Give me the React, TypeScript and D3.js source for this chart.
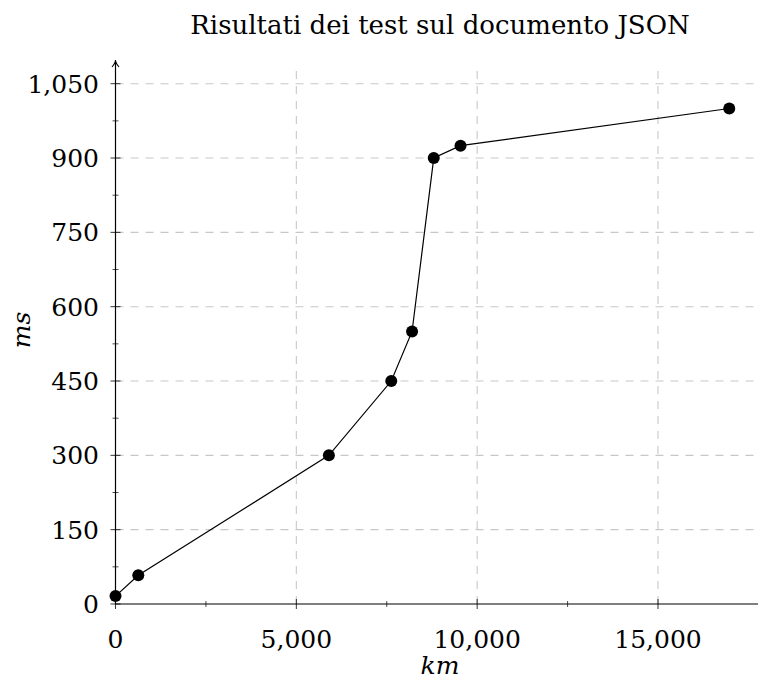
import * as d3 from "d3";

// distance (km) vs response time (ms)
const kmValues = [0, 630, 5900, 7625, 8200, 8800, 9540, 16970];
const msValues = [16, 58, 300, 450, 550, 900, 925, 1000];

const xTicks = [0, 5000, 10000, 15000];
const xMinorTicks = [2500, 7500, 12500];
const yTicks = [0, 150, 300, 450, 600, 750, 900, 1050];
const yMinorTicks = [75, 225, 375, 525, 675, 825, 975];

const title = "Risultati dei test sul documento JSON";
const xLabel = "km";
const yLabel = "ms";

const width = 758;
const height = 684;
const font = "DejaVu Serif";

export default function App() {
  const x = d3.scaleLinear().domain([0, 15000]).range([115.5, 658]);
  const y = d3.scaleLinear().domain([0, 1050]).range([604, 83.7]);

  const xEnd = width;
  const yTop = 60;
  const fmt = d3.format(",");

  const points: [number, number][] = kmValues.map((k, i) => [k, msValues[i]]);
  const line = d3
    .line<[number, number]>()
    .x(d => x(d[0]))
    .y(d => y(d[1]));

  return (
    <svg
      width={width}
      height={height}
      style={{ position: "absolute", left: 0, top: 0, background: "#fff" }}
      fontFamily={font}
    >
      {/* grid */}
      <g stroke="#c8c8c8" strokeWidth={1.1} strokeDasharray="8,7">
        {yTicks.slice(1).map(t => (
          <line key={"gy" + t} x1={x(0)} x2={xEnd} y1={y(t)} y2={y(t)} />
        ))}
        {xTicks.slice(1).map(t => (
          <line key={"gx" + t} x1={x(t)} x2={x(t)} y1={y(0)} y2={yTop + 4} />
        ))}
      </g>

      {/* axes */}
      <g stroke="#000" strokeWidth={1.2}>
        <line x1={x(0)} x2={xEnd} y1={y(0)} y2={y(0)} />
        <line x1={x(0)} x2={x(0)} y1={y(0)} y2={yTop + 2} />
        {xTicks.map(t => (
          <line key={"xt" + t} x1={x(t)} x2={x(t)} y1={y(0) - 5} y2={y(0) + 5} strokeWidth={0.8} />
        ))}
        {xMinorTicks.map(t => (
          <line key={"xm" + t} x1={x(t)} x2={x(t)} y1={y(0) - 3} y2={y(0) + 3} strokeWidth={0.7} />
        ))}
        {yTicks.map(t => (
          <line key={"yt" + t} x1={x(0) - 5} x2={x(0) + 5} y1={y(t)} y2={y(t)} strokeWidth={0.8} />
        ))}
        {yMinorTicks.map(t => (
          <line key={"ym" + t} x1={x(0) - 3} x2={x(0) + 3} y1={y(t)} y2={y(t)} strokeWidth={0.7} />
        ))}
      </g>
      {/* arrow on y axis */}
      <path
        d={`M${x(0) - 3.5},${yTop + 7} Q${x(0)},${yTop + 3} ${x(0)},${yTop} Q${x(0)},${yTop + 3} ${x(0) + 3.5},${yTop + 7}`}
        fill="none"
        stroke="#000"
        strokeWidth={1.1}
      />

      {/* tick labels */}
      <g fontSize={25} fill="#000">
        {xTicks.map(t => (
          <text key={"xl" + t} x={x(t)} y={648} textAnchor="middle">
            {fmt(t)}
          </text>
        ))}
        {yTicks.map(t => (
          <text key={"yl" + t} x={99} y={y(t) + 9} textAnchor="end">
            {fmt(t)}
          </text>
        ))}
      </g>

      {/* data */}
      <path d={line(points) || undefined} fill="none" stroke="#000" strokeWidth={1.2} />
      <g fill="#000">
        {points.map(([k, m], i) => (
          <circle key={i} cx={x(k)} cy={y(m)} r={6} />
        ))}
      </g>

      {/* labels */}
      <text x={440} y={34} textAnchor="middle" fontSize={26}>
        {title}
      </text>
      <text x={440} y={674} textAnchor="middle" fontSize={25} fontStyle="italic">
        {xLabel}
      </text>
      <text
        transform={`translate(30,330) rotate(-90)`}
        textAnchor="middle"
        fontSize={25}
        fontStyle="italic"
      >
        {yLabel}
      </text>
    </svg>
  );
}
